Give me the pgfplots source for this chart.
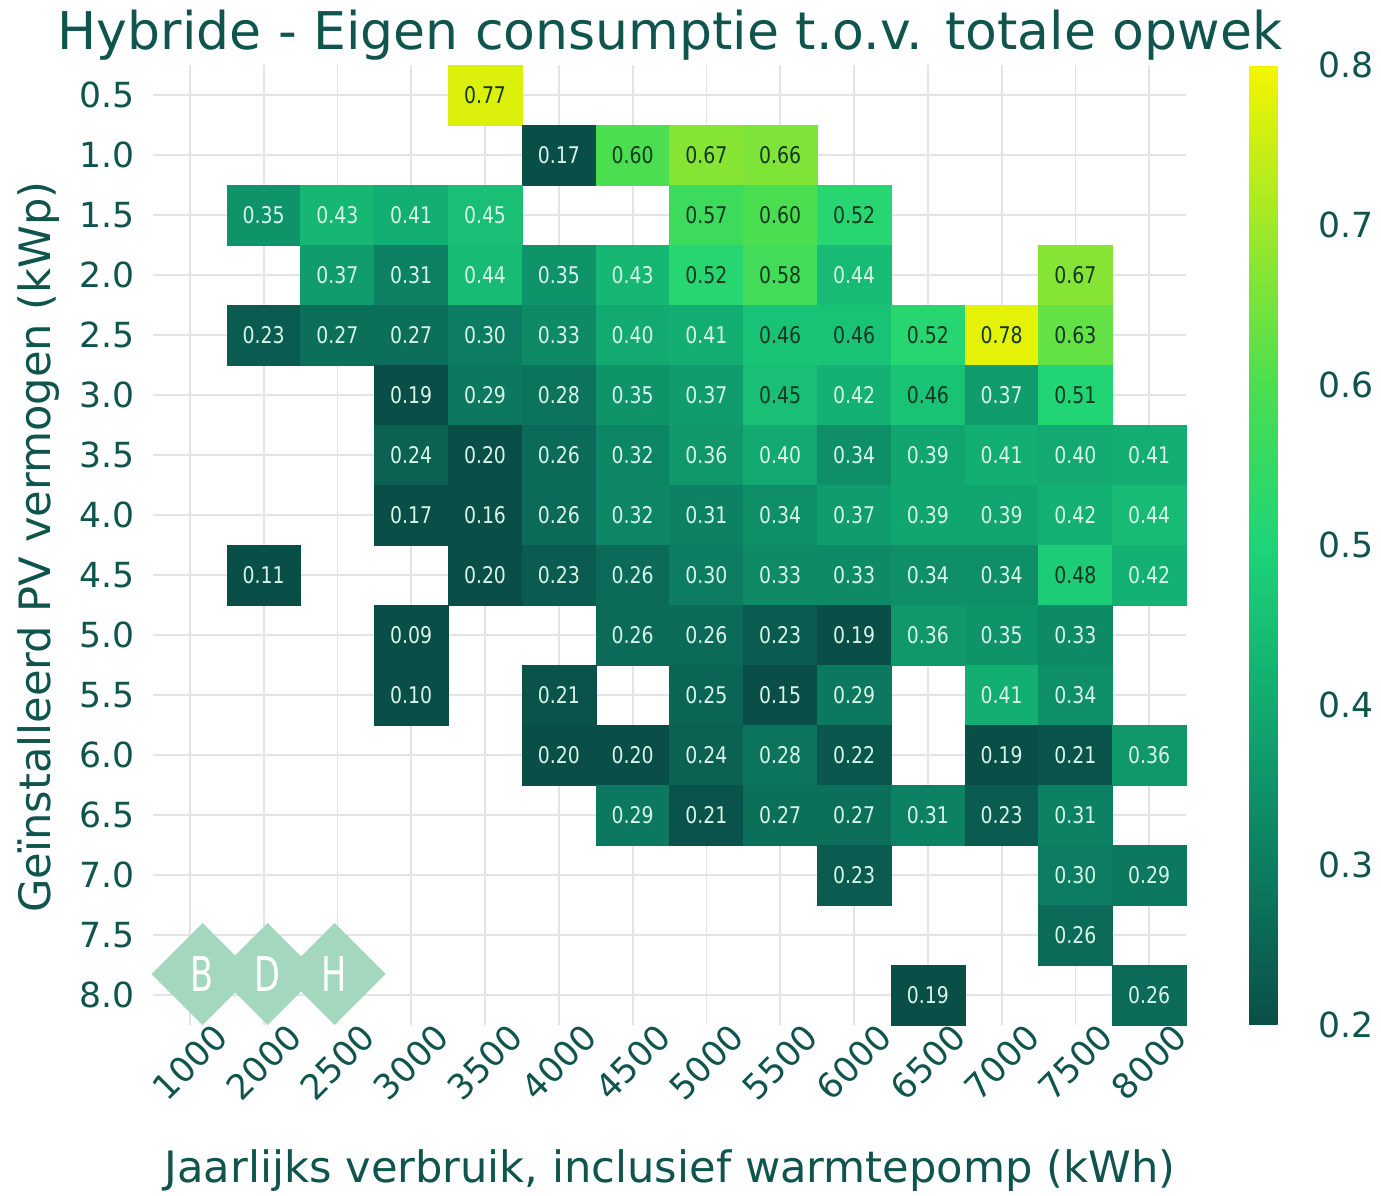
\documentclass[border=0pt]{standalone}
\usepackage{pgfplots}
\pgfplotsset{compat=1.18}
\usepackage{pgfplotstable}
\usepackage{fontspec}
\setmainfont{DejaVu Sans}
\newfontfamily\cellfont[FakeStretch=0.82]{DejaVu Sans}
\newfontfamily\logofont[FakeStretch=0.7]{DejaVu Sans}
\definecolor{txt}{RGB}{16,84,78}
\definecolor{lighttxt}{RGB}{215,245,232}
\definecolor{darktxt}{RGB}{18,55,35}
\definecolor{gridc}{RGB}{228,228,230}
\definecolor{logoc}{RGB}{164,216,190}

% x = column index (0=1000,1=2000,2=2500,...,13=8000), y = kWp, v = value, d = dark label
\pgfplotstableread{
x y v d
4 0.5 0.77 1
5 1.0 0.17 0
6 1.0 0.60 1
7 1.0 0.67 1
8 1.0 0.66 1
1 1.5 0.35 0
2 1.5 0.43 0
3 1.5 0.41 0
4 1.5 0.45 0
7 1.5 0.57 1
8 1.5 0.60 1
9 1.5 0.52 1
2 2.0 0.37 0
3 2.0 0.31 0
4 2.0 0.44 0
5 2.0 0.35 0
6 2.0 0.43 0
7 2.0 0.52 1
8 2.0 0.58 1
9 2.0 0.44 0
12 2.0 0.67 1
1 2.5 0.23 0
2 2.5 0.27 0
3 2.5 0.27 0
4 2.5 0.30 0
5 2.5 0.33 0
6 2.5 0.40 0
7 2.5 0.41 0
8 2.5 0.46 1
9 2.5 0.46 1
10 2.5 0.52 1
11 2.5 0.78 1
12 2.5 0.63 1
3 3.0 0.19 0
4 3.0 0.29 0
5 3.0 0.28 0
6 3.0 0.35 0
7 3.0 0.37 0
8 3.0 0.45 1
9 3.0 0.42 0
10 3.0 0.46 1
11 3.0 0.37 0
12 3.0 0.51 1
3 3.5 0.24 0
4 3.5 0.20 0
5 3.5 0.26 0
6 3.5 0.32 0
7 3.5 0.36 0
8 3.5 0.40 0
9 3.5 0.34 0
10 3.5 0.39 0
11 3.5 0.41 0
12 3.5 0.40 0
13 3.5 0.41 0
3 4.0 0.17 0
4 4.0 0.16 0
5 4.0 0.26 0
6 4.0 0.32 0
7 4.0 0.31 0
8 4.0 0.34 0
9 4.0 0.37 0
10 4.0 0.39 0
11 4.0 0.39 0
12 4.0 0.42 0
13 4.0 0.44 0
1 4.5 0.11 0
4 4.5 0.20 0
5 4.5 0.23 0
6 4.5 0.26 0
7 4.5 0.30 0
8 4.5 0.33 0
9 4.5 0.33 0
10 4.5 0.34 0
11 4.5 0.34 0
12 4.5 0.48 1
13 4.5 0.42 0
3 5.0 0.09 0
6 5.0 0.26 0
7 5.0 0.26 0
8 5.0 0.23 0
9 5.0 0.19 0
10 5.0 0.36 0
11 5.0 0.35 0
12 5.0 0.33 0
3 5.5 0.10 0
5 5.5 0.21 0
7 5.5 0.25 0
8 5.5 0.15 0
9 5.5 0.29 0
11 5.5 0.41 0
12 5.5 0.34 0
5 6.0 0.20 0
6 6.0 0.20 0
7 6.0 0.24 0
8 6.0 0.28 0
9 6.0 0.22 0
11 6.0 0.19 0
12 6.0 0.21 0
13 6.0 0.36 0
6 6.5 0.29 0
7 6.5 0.21 0
8 6.5 0.27 0
9 6.5 0.27 0
10 6.5 0.31 0
11 6.5 0.23 0
12 6.5 0.31 0
9 7.0 0.23 0
12 7.0 0.30 0
13 7.0 0.29 0
12 7.5 0.26 0
10 8.0 0.19 0
13 8.0 0.26 0
}\heat

\pgfplotsset{
  celllabels/.style={draw=none, mark=none,
    point meta=explicit,
    nodes near coords={\pgfmathprintnumber[fixed,fixed zerofill,precision=2,assume math mode=true]{\pgfplotspointmeta}},
    every node near coord/.append style={font=\cellfont\fontsize{11.5}{12}\selectfont, anchor=center, text=#1},
  },
}

\begin{document}
\begin{tikzpicture}
\useasboundingbox (0,0) rectangle (690.5pt,597.5pt);
\begin{axis}[
  at={(334.75pt,325pt)}, anchor=center,
  x=36.9pt, y=60pt, y dir=reverse,
  xmin=-0.5, xmax=13.5, ymin=0.25, ymax=8.25,
  xtick={0,1,2,3,4,5,6,7,8,9,10,11,12,13},
  xticklabels={1000,2000,2500,3000,3500,4000,4500,5000,5500,6000,6500,7000,7500,8000},
  ytick={0.5,1,1.5,2,2.5,3,3.5,4,4.5,5,5.5,6,6.5,7,7.5,8},
  yticklabels={0.5,1.0,1.5,2.0,2.5,3.0,3.5,4.0,4.5,5.0,5.5,6.0,6.5,7.0,7.5,8.0},
  tick label style={font=\fontsize{17.3}{20}\selectfont, text=txt},
  yticklabel style={xshift=-5.5pt},
  xticklabel style={anchor=center, yshift=-18.5pt, rotate=45},
  grid=major, grid style={gridc, line width=0.9pt},
  axis line style={draw=none}, major tick length=0pt,
  point meta min=0.2, point meta max=0.8,
  colormap={heat}{rgb255(0cm)=(10,78,72); rgb255(1cm)=(12,125,98); rgb255(2cm)=(18,170,112); rgb255(3cm)=(30,212,120); rgb255(4cm)=(75,222,80); rgb255(5cm)=(160,232,40); rgb255(6cm)=(245,245,0)},
  colorbar,
  colorbar style={
    scale only axis, width=24pt,
    at={(parent axis.right of north east)}, anchor=north west, xshift=16.5pt,
    ytick={0.2,0.3,0.4,0.5,0.6,0.7,0.8},
    yticklabels={0.2,0.3,0.4,0.5,0.6,0.7,0.8},
    yticklabel style={font=\fontsize{17.3}{20}\selectfont, text=txt, xshift=7pt},
    axis line style={draw=none}, major tick length=0pt,
  },
]
% tiles
\addplot[scatter, only marks, mark=square*, mark size=15pt,
    mark options={xscale=1.23, line width=0.2pt},
    scatter/use mapped color={draw=mapped color, fill=mapped color},
    point meta=explicit] table[x=x, y=y, meta=v] {\heat};
% value labels
\addplot[celllabels=lighttxt, restrict expr to domain={\thisrow{d}}{0:0.5}] table[x=x, y=y, meta=v] {\heat};
\addplot[celllabels=darktxt, restrict expr to domain={\thisrow{d}}{0.5:1}] table[x=x, y=y, meta=v] {\heat};
\end{axis}
% BDH logo (decorative)
\foreach \cx/\lt in {101.25/B,133.75/D,167.3/H}{
  \fill[logoc] (\cx pt,110.5pt) +(-25.5pt,0) -- +(0,25.5pt) -- +(25.5pt,0) -- +(0,-25.5pt) -- cycle;
}
\foreach \cx/\lt in {101.25/B,133.75/D,167.3/H}{
  \node[text=white, font=\logofont\fontsize{24}{24}\selectfont] at (\cx pt,110.5pt) {\lt};
}
\node[anchor=base, font=\fontsize{26}{30}\selectfont, text=txt] at (335pt,572.5pt) {Hybride - Eigen consumptie t.o.v. totale opwek};
\node[anchor=base, font=\fontsize{21.6}{25}\selectfont, text=txt] at (335pt,6.5pt) {Jaarlijks verbruik, inclusief warmtepomp (kWh)};
\node[anchor=base, rotate=90, font=\fontsize{21.6}{25}\selectfont, text=txt] at (25pt,324pt) {Geïnstalleerd PV vermogen (kWp)};
\end{tikzpicture}
\end{document}
